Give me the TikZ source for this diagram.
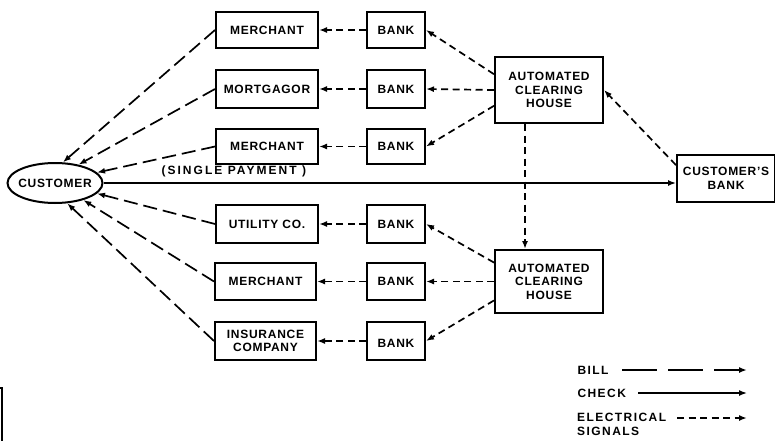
\documentclass[tikz,border=0pt]{standalone}
\usepackage{fontspec}
\setmainfont{Liberation Sans}
\usetikzlibrary{arrows.meta,calc,shapes.geometric}
\begin{document}
\begin{tikzpicture}[x=1pt,y=-1pt,
  lbl/.style={font=\bfseries\fontsize{12}{13.5}\selectfont\addfontfeatures{LetterSpace=6}},
  wide/.style={font=\bfseries\fontsize{12}{13.5}\selectfont\addfontfeatures{LetterSpace=#1}},
  box/.style={draw,line width=2pt,inner sep=0pt,align=center,lbl},
  tip/.style={-{Latex[length=8pt,width=6pt]}},
  bill/.style={tip,line width=1.7pt,dash pattern=on 14pt off 6pt},
  elec/.style={tip,line width=1.7pt,dash pattern=on 7pt off 4.5pt},
  check/.style={tip,line width=1.5pt}]
\useasboundingbox (0,0) rectangle (775,441);

% payees
\node[box,minimum width=102pt,minimum height=36pt] (m1)  at (267,30)    {MERCHANT};
\node[box,minimum width=102pt,minimum height=38pt] (mo)  at (267,89)    {MORTGAGOR};
\node[box,minimum width=102pt,minimum height=35pt] (m2)  at (267,146.5) {MERCHANT};
\node[box,minimum width=102pt,minimum height=38pt] (ut)  at (267,224)   {UTILITY CO.};
\node[box,minimum width=101pt,minimum height=37pt] (m3)  at (265.5,281.5) {MERCHANT};
\node[box,minimum width=101pt,minimum height=38pt] (ins) at (265.5,341) {INSURANCE\\COMPANY};

% payee banks
\node[box,minimum width=58pt,minimum height=36pt] (b1) at (396,30)    {BANK};
\node[box,minimum width=58pt,minimum height=38pt] (b2) at (396,89)    {BANK};
\node[box,minimum width=58pt,minimum height=35pt] (b3) at (396,146.5) {BANK};
\node[box,minimum width=58pt,minimum height=38pt] (b4) at (396,224)   {BANK};
\node[box,minimum width=58pt,minimum height=37pt] (b5) at (396,281.5) {BANK};
\node[box,minimum width=58pt,minimum height=38pt] (b6) at (396,341)   {\\BANK};

% clearing houses
\node[box,minimum width=108pt,minimum height=66pt] (ach1) at (549,90)    {AUTOMATED\\CLEARING\\HOUSE};
\node[box,minimum width=108pt,minimum height=63pt] (ach2) at (549,281.5) {AUTOMATED\\CLEARING\\HOUSE};

% customer and customer's bank
\node[box,minimum width=98pt,minimum height=47pt] (cb) at (726,178.5) {CUSTOMER'S\\BANK};
\node[draw,ellipse,line width=2pt,inner xsep=-4pt,inner ysep=0pt,minimum width=95pt,minimum height=40pt,lbl] (cust) at (55,183) {CUSTOMER};

% bills to the customer
\draw[bill] (m1.west)  -- (cust.69);
\draw[bill] (mo.west)  -- (cust.38);
\draw[bill] (m2.west)  -- (cust.14);
\draw[bill] (ut.west)  -- (cust.-14);
\draw[bill] (m3.west)  -- (cust.-31);
\draw[bill] (ins.west) -- (cust.-59);

% banks credit payees
\foreach \b/\p in {b1/m1,b2/mo,b3/m2,b4/ut,b5/m3,b6/ins}
  \draw[elec] (\b.west) -- (\p.east);

% clearing houses notify banks
\draw[elec] (ach1.164) -- (b1.east);
\draw[elec] (ach1.west) -- (b2.east);
\draw[elec] (ach1.196) -- (b3.east);
\draw[elec] (ach2.161) -- (b4.east);
\draw[elec] (ach2.west) -- (b5.east);
\draw[elec] (ach2.199) -- (b6.east);

% customer's bank to the clearing houses
\draw[elec] (cb.165) -- (ach1.east);
\coordinate (achdrop) at ($(ach1.south)+(-24,0)$);
\draw[elec] (achdrop) -- (achdrop |- ach2.north);

% the single check
\draw[check] (cust.east) -- (cust.east -| cb.west);
\node[wide=17,anchor=south west] (sp) at (158,181) {(SINGLE PAYMENT )};

% legend
\node[wide=12,anchor=west] (lbill) at (574,370) {BILL};
\node[wide=12,anchor=west] (lcheck) at (574,393) {CHECK};
\node[wide=12,anchor=north west,align=left,inner sep=0pt] (lelec) at (577,413) {ELECTRICAL\\SIGNALS};
\coordinate (ebill) at (747,370);
\coordinate (echeck) at (747,393);
\coordinate (eelec) at (747,418);
\draw[tip,line width=1.6pt,dash pattern=on 35pt off 11pt] (622,370) -- (ebill);
\draw[check] (638,393) -- (echeck);
\draw[elec] (677,418) -- (eelec);

% margin rule
\draw[line width=1.4pt] (0,388) -- (2,388) -- (2,441);
\end{tikzpicture}
\end{document}
